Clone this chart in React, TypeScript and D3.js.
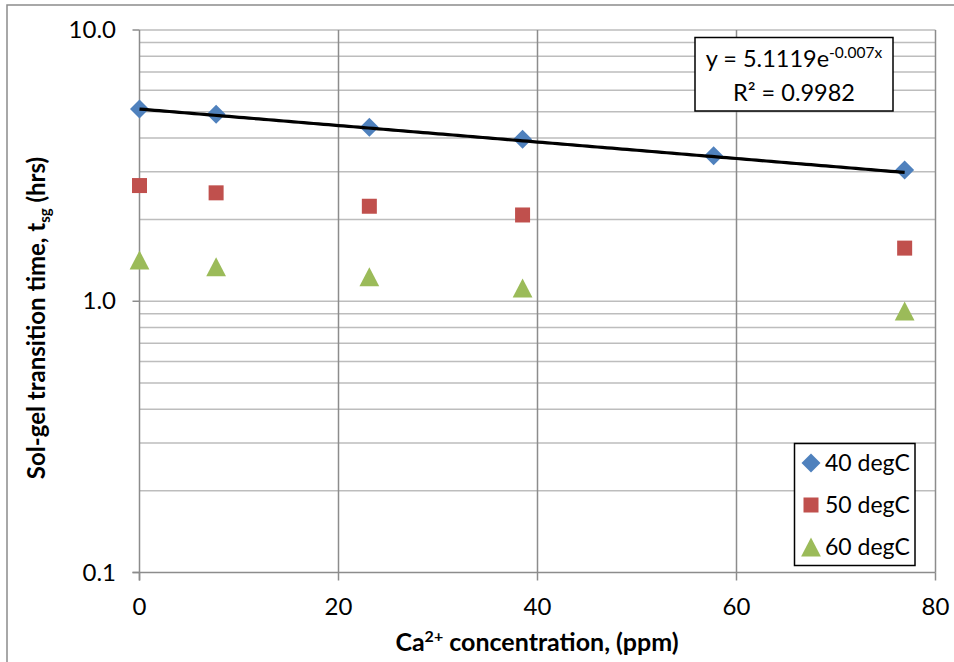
import React from "react";
import * as d3 from "d3";

// Calcium concentration (ppm) for each sample
const caPpm = [0, 7.7, 23.1, 38.5, 57.7, 76.9];
// Sol-gel transition time (hrs) by temperature
const t40 = [5.11, 4.89, 4.38, 3.96, 3.44, 3.05];
const t50 = [2.67, 2.51, 2.24, 2.08, null, 1.57];
const t60 = [1.42, 1.34, 1.23, 1.12, null, 0.92];
const seriesNames = ["40 degC", "50 degC", "60 degC"];
const seriesColors = ["#4f81bd", "#c0504d", "#9bbb59"];
const xTicks = [0, 20, 40, 60, 80];
const yTicks = [0.1, 1, 10];
// Exponential fit for the 40 degC series
const fitA = 5.1119;
const fitB = -0.007;

const W = 954;
const H = 662;
const FONT = "Lato, 'Open Sans', sans-serif";

export default function App() {
  const x = d3.scaleLinear().domain([0, 80]).range([139.5, 935.5]);
  const y = d3.scaleLog().domain([0.1, 10]).range([572.5, 30]);

  const minor: number[] = [];
  for (const dec of [0.1, 1]) {
    for (let k = 2; k <= 10; k++) minor.push(dec * k);
  }

  const fitXs = d3.range(0, 76.9 + 0.001, 0.5).concat([76.9]);
  const fitLine = d3
    .line<number>()
    .x((d) => x(d))
    .y((d) => y(fitA * Math.exp(fitB * d)))(fitXs);

  const diamond = (cx: number, cy: number, r: number) =>
    `M${cx},${cy - r}L${cx + r},${cy}L${cx},${cy + r}L${cx - r},${cy}Z`;
  const triangle = (cx: number, cy: number, s: number) =>
    `M${cx},${cy - s * 0.5}L${cx + s * 0.52},${cy + s * 0.5}L${cx - s * 0.52},${cy + s * 0.5}Z`;

  const drawMarker = (si: number, cx: number, cy: number, key: string) => {
    if (si === 0)
      return <path key={key} d={diamond(cx, cy, 9.5)} fill={seriesColors[0]} />;
    if (si === 1)
      return (
        <rect key={key} x={cx - 7.5} y={cy - 7.5} width={15} height={15} fill={seriesColors[1]} />
      );
    return <path key={key} d={triangle(cx, cy, 19)} fill={seriesColors[2]} />;
  };

  const allSeries = [t40, t50, t60];

  return (
    <svg
      width={W}
      height={H}
      style={{ position: "absolute", left: 0, top: 0, background: "#fff" }}
      fontFamily={FONT}
    >
      <rect x={0} y={0} width={W} height={H} fill="#fff" />
      {/* chart frame */}
      <rect x={7} y={5} width={1000} height={1000} fill="none" stroke="#8c8c8c" strokeWidth={1.5} />

      {/* horizontal gridlines */}
      {minor.map((v) => (
        <line
          key={"h" + v}
          x1={x(0)}
          x2={x(80)}
          y1={y(v)}
          y2={y(v)}
          stroke="#bdbdbd"
          strokeWidth={1.5}
        />
      ))}
      {/* vertical gridlines */}
      {xTicks.slice(1).map((v) => (
        <line
          key={"v" + v}
          x1={x(v)}
          x2={x(v)}
          y1={y(10)}
          y2={y(0.1)}
          stroke="#8c8c8c"
          strokeWidth={1.5}
        />
      ))}

      {/* axes */}
      <line x1={x(0)} x2={x(0)} y1={y(10)} y2={y(0.1) + 8} stroke="#8c8c8c" strokeWidth={1.5} />
      <line x1={x(0) - 7} x2={x(80)} y1={y(0.1)} y2={y(0.1)} stroke="#8c8c8c" strokeWidth={1.5} />
      {yTicks.map((v) => (
        <g key={"yt" + v}>
          <line x1={x(0) - 7} x2={x(0)} y1={y(v)} y2={y(v)} stroke="#8c8c8c" strokeWidth={1.5} />
          <text x={116} y={y(v) + 8} textAnchor="end" fontSize={24} fill="#000">
            {v.toFixed(1)}
          </text>
        </g>
      ))}
      {xTicks.map((v) => (
        <g key={"xt" + v}>
          <line x1={x(v)} x2={x(v)} y1={y(0.1)} y2={y(0.1) + 8} stroke="#8c8c8c" strokeWidth={1.5} />
          <text x={x(v)} y={615} textAnchor="middle" fontSize={24} fill="#000">
            {v}
          </text>
        </g>
      ))}

      {/* data points */}
      {allSeries.map((vals, si) =>
        vals.map((v, i) =>
          v == null ? null : drawMarker(si, x(caPpm[i]), y(v), `m${si}-${i}`)
        )
      )}

      {/* trendline */}
      <path d={fitLine || ""} fill="none" stroke="#000" strokeWidth={3.2} />

      {/* equation label */}
      <rect x={695} y={37.5} width={198} height={73.5} fill="#fff" stroke="#000" strokeWidth={1.5} />
      <text x={794} y={67} textAnchor="middle" fontSize={23.5} fill="#000">
        y = 5.1119e
        <tspan fontSize={15.5} dy={-9}>-0.007x</tspan>
      </text>
      <text x={794} y={101} textAnchor="middle" fontSize={23.5} fill="#000">
        R² = 0.9982
      </text>

      {/* legend */}
      <rect x={794.5} y={443.5} width={120.5} height={122} fill="#fff" stroke="#000" strokeWidth={1.5} />
      {seriesNames.map((name, si) => {
        const cy = 463 + si * 42;
        return (
          <g key={name}>
            {drawMarker(si, 811, cy, "lg" + si)}
            <text x={825} y={cy + 8} fontSize={23} fill="#000">
              {name}
            </text>
          </g>
        );
      })}

      {/* axis titles */}
      <text x={537} y={651} textAnchor="middle" fontSize={25} fontWeight="bold" fill="#000">
        Ca
        <tspan fontSize={16} dy={-9}>2+</tspan>
        <tspan dy={9}> concentration, (ppm)</tspan>
      </text>
      <text
        transform="translate(45,318) rotate(-90)"
        textAnchor="middle"
        fontSize={24}
        fontWeight="bold"
        fill="#000"
      >
        Sol-gel transition time, t
        <tspan fontSize={15} dy={5}>sg</tspan>
        <tspan dy={-5}> (hrs)</tspan>
      </text>
    </svg>
  );
}
